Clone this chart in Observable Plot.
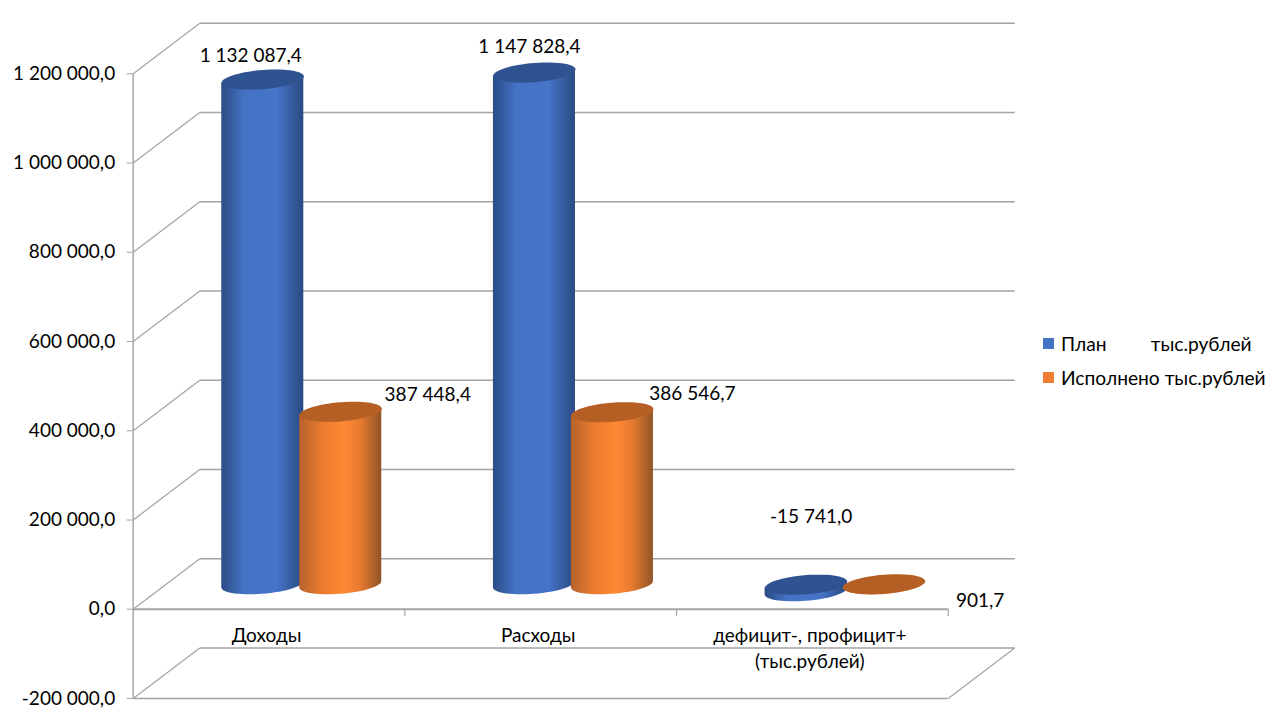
<!DOCTYPE html>
<html lang="ru">
<head>
<meta charset="utf-8">
<script src="https://cdn.jsdelivr.net/npm/d3@7"></script>
<script src="https://cdn.jsdelivr.net/npm/@observablehq/plot@0.6"></script>
<style>
  html, body { margin: 0; padding: 0; background: #fff; }
  #chart { position: relative; width: 1280px; height: 720px; overflow: hidden; }
  #legend { position: absolute; left: 1043px; top: 326px; font: 19.2px Lato, sans-serif; color: #000; }
  #legend div { display: flex; align-items: center; height: 34px; white-space: pre; }
  #legend i { display: block; width: 11px; height: 11px; margin-right: 7px; }
</style>
</head>
<body>
<div id="chart"><div id="legend"></div></div>
<script>
const categories = ["Доходы", "Расходы", "дефицит-, профицит+\n(тыс.рублей)"];
const seriesNames = ["План         тыс.рублей", "Исполнено тыс.рублей"];
const planValues = [1132087.4, 1147828.4, -15741.0];
const doneValues = [387448.4, 386546.7, 901.7];
const planLabels = ["1 132 087,4", "1 147 828,4", "-15 741,0"];
const doneLabels = ["387 448,4", "386 546,7", "901,7"];
const yTicks = [-200000, 0, 200000, 400000, 600000, 800000, 1000000, 1200000];

// 3D layout (in scale units)
const depthX = 0.245, depthY = 113200, floorY = 55000;
const radiusX = 0.151, radiusY = 21500, tiltY = 7000;
const seriesOffset = [0.477, 0.764];
const topColors = ["#2f5391", "#b55f24"];
const gradients = ["url(#cylBlue)", "url(#cylOrange)"];
const legendColors = ["#4472c4", "#ed7d31"];
const labelNudge = [
  [[-12, -24], [-5, -26], [5, -75]],
  [[87, -17], [80, -18], [96, 17]]
];

const allValues = [planValues, doneValues];
const allLabels = [planLabels, doneLabels];
const angles = d3.range(0, 361, 6).map(d => d * Math.PI / 180);
const halfAngles = angles.filter(t => t <= Math.PI + 1e-9);

const fmtCore = d3.formatLocale({decimal: ",", thousands: "\u00a0", grouping: [3], currency: ["", ""], minus: "-"}).format(",.1f");

const cylinders = allValues.flatMap((vals, s) => vals.map((v, i) => ({
  s, i, v,
  cx: i + seriesOffset[s],
  hi: Math.max(v, 0) + floorY,
  lo: Math.min(v, 0) + floorY,
  cap: v + floorY,
  label: allLabels[s][i]
})));

const bodyPoints = cylinders.flatMap(c => halfAngles.map(t => ({
  key: c.i, s: c.s,
  x: c.cx + radiusX * Math.cos(t),
  y1: c.lo - radiusY * Math.sin(t) + tiltY * Math.cos(t),
  y2: c.hi + tiltY * Math.cos(t)
})));
const capPoints = cylinders.flatMap(c => angles.map(t => ({
  key: c.i, s: c.s,
  x: c.cx + radiusX * Math.cos(t),
  y: c.hi + radiusY * Math.sin(t) + tiltY * Math.cos(t)
})));

const defs = () => d3.create("svg:defs").html(`
  <linearGradient id="cylBlue" x1="0" x2="1" y1="0" y2="0">
    <stop offset="0" stop-color="#2b4c86"/><stop offset="0.28" stop-color="#4472c4"/>
    <stop offset="0.68" stop-color="#4674c8"/><stop offset="1" stop-color="#2a4a82"/>
  </linearGradient>
  <linearGradient id="cylOrange" x1="0" x2="1" y1="0" y2="0">
    <stop offset="0" stop-color="#b8612a"/><stop offset="0.3" stop-color="#ed7d31"/>
    <stop offset="0.55" stop-color="#ff8833"/><stop offset="0.75" stop-color="#e67a30"/>
    <stop offset="1" stop-color="#8f5426"/>
  </linearGradient>`).node();

const gridStroke = "#a3a3a3";

const chart = Plot.plot({
  width: 1280, height: 720,
  marginLeft: 132.7, marginRight: 332.3, marginTop: 73.3, marginBottom: 22,
  x: {domain: [0, 3], axis: null},
  y: {domain: [-200000, 1200000], label: null},
  style: {fontFamily: "Lato, sans-serif", fontSize: "19px", background: "transparent", color: "#000", overflow: "visible"},
  marks: [
    defs,
    // side wall and back wall grid
    Plot.link(yTicks, {x1: () => 0, y1: d => d, x2: () => depthX, y2: d => d + depthY, stroke: gridStroke, strokeWidth: 1.2}),
    Plot.link(yTicks, {x1: () => depthX, y1: d => d + depthY, x2: () => 3 + depthX, y2: d => d + depthY, stroke: gridStroke, strokeWidth: 1.4}),
    // bottom floor
    Plot.link([-200000], {x1: () => 3, y1: d => d, x2: () => 3 + depthX, y2: d => d + depthY, stroke: gridStroke, strokeWidth: 1.2}),
    Plot.ruleY([-200000], {x1: 0, x2: 3, stroke: gridStroke, strokeWidth: 1.6}),
    // axis line, zero line, category ticks
    Plot.ruleX([0], {y1: -200000, y2: 1200000, stroke: gridStroke, strokeWidth: 1.4}),
    Plot.ruleY([0], {x1: 0, x2: 3, stroke: gridStroke, strokeWidth: 1.8}),
    Plot.ruleX([1, 2, 3], {y1: 0, y2: -16000, stroke: gridStroke, strokeWidth: 1.2}),
    Plot.axisY({
      anchor: "left", ticks: yTicks, tickSize: 6, tickPadding: 12, stroke: gridStroke,
      tickFormat: fmtCore, label: null, fontSize: 19, fill: "#000"
    }),
    // cylinders
    ...[0, 1].flatMap(s => [
      Plot.area(bodyPoints.filter(d => d.s === s), {x1: "x", y1: "y1", y2: "y2", z: "key", fill: gradients[s], curve: "linear"}),
      Plot.line(capPoints.filter(d => d.s === s), {x: "x", y: "y", z: "key", fill: topColors[s], stroke: "none", curve: "linear"})
    ]),
    // data labels
    ...cylinders.map(c => Plot.text([c], {
      x: "cx", y: "cap", text: "label",
      dx: labelNudge[c.s][c.i][0], dy: labelNudge[c.s][c.i][1],
      fill: "#000", fontSize: 19
    })),
    // category labels
    ...categories.map((name, i) => Plot.text([name], {
      x: () => i + 0.5, y: () => 0, text: d => d,
      dx: -2.5, dy: 14, lineAnchor: "top", lineHeight: 1.37,
      fill: "#000", fontSize: 19
    }))
  ]
});
document.getElementById("chart").prepend(chart);

const legend = d3.select("#legend");
seriesNames.forEach((name, i) => {
  const row = legend.append("div");
  row.append("i").style("background", legendColors[i]);
  row.append("span").text(name);
});
</script>
</body>
</html>
